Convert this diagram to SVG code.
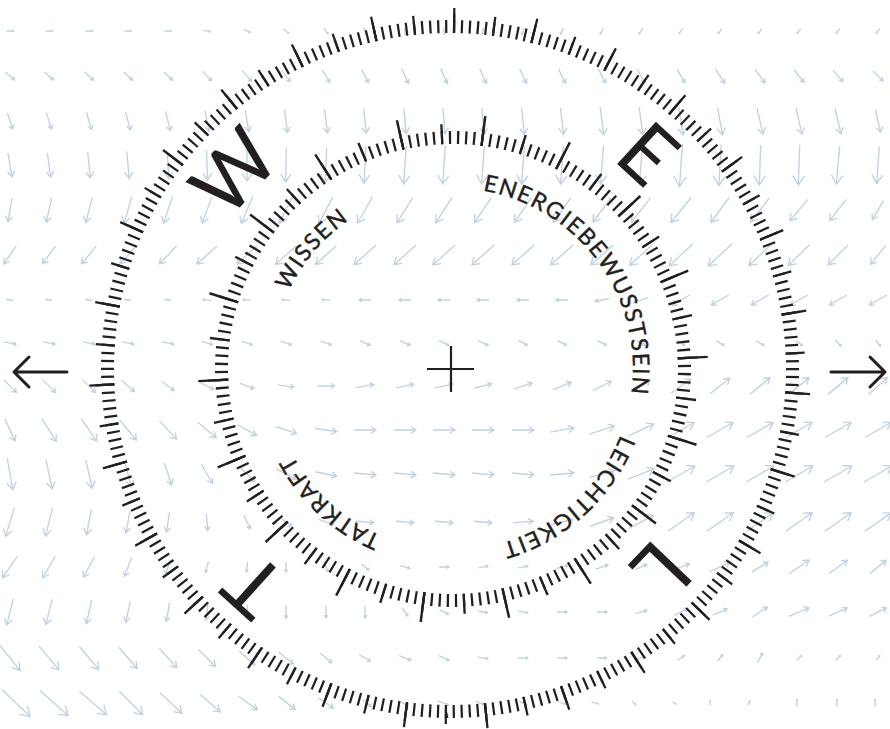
<svg xmlns="http://www.w3.org/2000/svg" xmlns:xlink="http://www.w3.org/1999/xlink" width="890" height="729" viewBox="0 0 890 729">
<style>
.lbl{font-family:Lato,"Open Sans","DejaVu Sans",sans-serif;font-size:23px;letter-spacing:1.5px;fill:#231f20;stroke:#231f20;stroke-width:.4}
.big{font-family:Lato,"Open Sans","DejaVu Sans",sans-serif;font-size:80px;fill:#231f20}
.ring{fill:none;stroke:#231f20}
</style>
<defs>
<path id="a" d="M-15 0H15M8-4.5L15 0 8 4.5" fill="none" stroke="#bfd3e4" stroke-width="1.35" vector-effect="non-scaling-stroke"/>
<path id="lp" d="M452 188A181 181 0 1 1 451.99 188" fill="none"/>
</defs>
<rect width="890" height="729" fill="#fff"/>
<g id="field">
<g transform="translate(0 31)">
<use href="#a" transform="translate(10) rotate(0) scale(.23)"/><use href="#a" transform="translate(49) rotate(0) scale(.23)"/><use href="#a" transform="translate(89) rotate(0) scale(.23)"/><use href="#a" transform="translate(128) rotate(0) scale(.23)"/><use href="#a" transform="translate(168) rotate(0) scale(.23)"/><use href="#a" transform="translate(207) rotate(10) scale(.23)"/><use href="#a" transform="translate(247) rotate(25) scale(.23)"/><use href="#a" transform="translate(286) rotate(40) scale(.23)"/><use href="#a" transform="translate(326) rotate(55) scale(.23)"/><use href="#a" transform="translate(365) rotate(70) scale(.23)"/><use href="#a" transform="translate(405) rotate(80) scale(.23)"/><use href="#a" transform="translate(444) rotate(90) scale(.23)"/><use href="#a" transform="translate(483) rotate(100) scale(.23)"/><use href="#a" transform="translate(523) rotate(110) scale(.23)"/><use href="#a" transform="translate(562) rotate(115) scale(.23)"/><use href="#a" transform="translate(602) rotate(120) scale(.23)"/><use href="#a" transform="translate(641) rotate(125) scale(.23)"/><use href="#a" transform="translate(681) rotate(128) scale(.2)"/><use href="#a" transform="translate(720) rotate(128) scale(.2)"/><use href="#a" transform="translate(760) rotate(128) scale(.2)"/><use href="#a" transform="translate(799) rotate(128) scale(.2)"/><use href="#a" transform="translate(838) rotate(128) scale(.2)"/><use href="#a" transform="translate(878) rotate(128) scale(.2)"/>
</g>
<g transform="translate(0 76)">
<use href="#a" transform="translate(10) rotate(40) scale(.4)"/><use href="#a" transform="translate(49) rotate(40) scale(.4)"/><use href="#a" transform="translate(89) rotate(44) scale(.4)"/><use href="#a" transform="translate(128) rotate(43) scale(.4)"/><use href="#a" transform="translate(168) rotate(43) scale(.4)"/><use href="#a" transform="translate(207) rotate(46) scale(.43)"/><use href="#a" transform="translate(247) rotate(50) scale(.47)"/><use href="#a" transform="translate(286) rotate(54) scale(.47)"/><use href="#a" transform="translate(326) rotate(58) scale(.5)"/><use href="#a" transform="translate(365) rotate(62) scale(.5)"/><use href="#a" transform="translate(405) rotate(65) scale(.53)"/><use href="#a" transform="translate(444) rotate(66) scale(.53)"/><use href="#a" transform="translate(483) rotate(66) scale(.53)"/><use href="#a" transform="translate(523) rotate(65) scale(.53)"/><use href="#a" transform="translate(562) rotate(64) scale(.53)"/><use href="#a" transform="translate(602) rotate(62) scale(.53)"/><use href="#a" transform="translate(641) rotate(61) scale(.53)"/><use href="#a" transform="translate(681) rotate(60) scale(.53)"/><use href="#a" transform="translate(720) rotate(57) scale(.57)"/><use href="#a" transform="translate(760) rotate(54) scale(.57)"/><use href="#a" transform="translate(799) rotate(52) scale(.53)"/><use href="#a" transform="translate(838) rotate(49) scale(.5)"/><use href="#a" transform="translate(878) rotate(45) scale(.47)"/>
</g>
<g transform="translate(0 121)">
<use href="#a" transform="translate(10) rotate(71) scale(.57)"/><use href="#a" transform="translate(49) rotate(72) scale(.57)"/><use href="#a" transform="translate(89) rotate(74) scale(.6)"/><use href="#a" transform="translate(128) rotate(75) scale(.63)"/><use href="#a" transform="translate(168) rotate(76) scale(.67)"/><use href="#a" transform="translate(207) rotate(78) scale(.7)"/><use href="#a" transform="translate(247) rotate(80) scale(.73)"/><use href="#a" transform="translate(286) rotate(82) scale(.77)"/><use href="#a" transform="translate(326) rotate(83) scale(.8)"/><use href="#a" transform="translate(365) rotate(84) scale(.83)"/><use href="#a" transform="translate(405) rotate(85) scale(.83)"/><use href="#a" transform="translate(444) rotate(85) scale(.87)"/><use href="#a" transform="translate(483) rotate(85) scale(.87)"/><use href="#a" transform="translate(523) rotate(84) scale(.9)"/><use href="#a" transform="translate(562) rotate(83) scale(.9)"/><use href="#a" transform="translate(602) rotate(82) scale(.93)"/><use href="#a" transform="translate(641) rotate(82) scale(.93)"/><use href="#a" transform="translate(681) rotate(81) scale(.93)"/><use href="#a" transform="translate(720) rotate(80) scale(.93)"/><use href="#a" transform="translate(760) rotate(77) scale(.9)"/><use href="#a" transform="translate(799) rotate(77) scale(.9)"/><use href="#a" transform="translate(838) rotate(77) scale(.87)"/><use href="#a" transform="translate(878) rotate(77) scale(.77)"/>
</g>
<g transform="translate(0 165)">
<use href="#a" transform="translate(10) rotate(80) scale(.8)"/><use href="#a" transform="translate(49) rotate(82) scale(.83)"/><use href="#a" transform="translate(89) rotate(84) scale(.87)"/><use href="#a" transform="translate(128) rotate(85) scale(.9)"/><use href="#a" transform="translate(168) rotate(86) scale(.93)"/><use href="#a" transform="translate(207) rotate(88) scale(1)"/><use href="#a" transform="translate(247) rotate(90) scale(1.07)"/><use href="#a" transform="translate(286) rotate(91) scale(1.13)"/><use href="#a" transform="translate(326) rotate(92) scale(1.17)"/><use href="#a" transform="translate(365) rotate(93) scale(1.2)"/><use href="#a" transform="translate(405) rotate(94) scale(1.27)"/><use href="#a" transform="translate(444) rotate(94) scale(1.27)"/><use href="#a" transform="translate(483) rotate(94) scale(1.27)"/><use href="#a" transform="translate(523) rotate(94) scale(1.27)"/><use href="#a" transform="translate(562) rotate(94) scale(1.27)"/><use href="#a" transform="translate(602) rotate(94) scale(1.27)"/><use href="#a" transform="translate(641) rotate(94) scale(1.3)"/><use href="#a" transform="translate(681) rotate(94) scale(1.43)"/><use href="#a" transform="translate(720) rotate(93) scale(1.37)"/><use href="#a" transform="translate(760) rotate(92) scale(1.33)"/><use href="#a" transform="translate(799) rotate(92) scale(1.33)"/><use href="#a" transform="translate(838) rotate(95) scale(1.27)"/><use href="#a" transform="translate(878) rotate(94) scale(1.23)"/>
</g>
<g transform="translate(0 210)">
<use href="#a" transform="translate(10) rotate(100) scale(.8)"/><use href="#a" transform="translate(49) rotate(102) scale(.83)"/><use href="#a" transform="translate(89) rotate(104) scale(.87)"/><use href="#a" transform="translate(128) rotate(106) scale(.9)"/><use href="#a" transform="translate(168) rotate(108) scale(.93)"/><use href="#a" transform="translate(207) rotate(110) scale(.93)"/><use href="#a" transform="translate(247) rotate(113) scale(.97)"/><use href="#a" transform="translate(286) rotate(116) scale(1)"/><use href="#a" transform="translate(326) rotate(118) scale(1)"/><use href="#a" transform="translate(365) rotate(120) scale(1)"/><use href="#a" transform="translate(405) rotate(122) scale(1)"/><use href="#a" transform="translate(444) rotate(123) scale(1)"/><use href="#a" transform="translate(483) rotate(124) scale(1)"/><use href="#a" transform="translate(523) rotate(125) scale(1)"/><use href="#a" transform="translate(562) rotate(126) scale(1)"/><use href="#a" transform="translate(602) rotate(127) scale(1)"/><use href="#a" transform="translate(641) rotate(128) scale(1.03)"/><use href="#a" transform="translate(681) rotate(129) scale(1.07)"/><use href="#a" transform="translate(720) rotate(126) scale(1.03)"/><use href="#a" transform="translate(760) rotate(128) scale(1)"/><use href="#a" transform="translate(799) rotate(130) scale(.93)"/><use href="#a" transform="translate(838) rotate(128) scale(.9)"/><use href="#a" transform="translate(878) rotate(121) scale(.73)"/>
</g>
<g transform="translate(0 255)">
<use href="#a" transform="translate(10) rotate(125) scale(.73)"/><use href="#a" transform="translate(49) rotate(127) scale(.73)"/><use href="#a" transform="translate(89) rotate(130) scale(.77)"/><use href="#a" transform="translate(128) rotate(132) scale(.8)"/><use href="#a" transform="translate(168) rotate(134) scale(.83)"/><use href="#a" transform="translate(207) rotate(138) scale(.9)"/><use href="#a" transform="translate(247) rotate(138) scale(.9)"/><use href="#a" transform="translate(286) rotate(138) scale(.93)"/><use href="#a" transform="translate(326) rotate(138) scale(.93)"/><use href="#a" transform="translate(365) rotate(138) scale(.97)"/><use href="#a" transform="translate(405) rotate(138) scale(.97)"/><use href="#a" transform="translate(444) rotate(138) scale(1)"/><use href="#a" transform="translate(483) rotate(138) scale(1)"/><use href="#a" transform="translate(523) rotate(138) scale(1)"/><use href="#a" transform="translate(562) rotate(138) scale(1)"/><use href="#a" transform="translate(602) rotate(138) scale(1)"/><use href="#a" transform="translate(641) rotate(138) scale(1.03)"/><use href="#a" transform="translate(681) rotate(137) scale(1.07)"/><use href="#a" transform="translate(720) rotate(137) scale(1.07)"/><use href="#a" transform="translate(760) rotate(136) scale(1.03)"/><use href="#a" transform="translate(799) rotate(136) scale(1)"/><use href="#a" transform="translate(838) rotate(135) scale(.93)"/><use href="#a" transform="translate(878) rotate(129) scale(.8)"/>
</g>
<g transform="translate(0 300)">
<use href="#a" transform="translate(10) rotate(190) scale(.2)"/><use href="#a" transform="translate(49) rotate(190) scale(.2)"/><use href="#a" transform="translate(89) rotate(190) scale(.2)"/><use href="#a" transform="translate(128) rotate(190) scale(.2)"/><use href="#a" transform="translate(168) rotate(190) scale(.2)"/><use href="#a" transform="translate(207) rotate(185) scale(.27)"/><use href="#a" transform="translate(247) rotate(185) scale(.27)"/><use href="#a" transform="translate(286) rotate(185) scale(.27)"/><use href="#a" transform="translate(326) rotate(185) scale(.27)"/><use href="#a" transform="translate(365) rotate(180) scale(.4)"/><use href="#a" transform="translate(405) rotate(180) scale(.4)"/><use href="#a" transform="translate(444) rotate(180) scale(.4)"/><use href="#a" transform="translate(483) rotate(180) scale(.4)"/><use href="#a" transform="translate(523) rotate(180) scale(.4)"/><use href="#a" transform="translate(562) rotate(180) scale(.4)"/><use href="#a" transform="translate(602) rotate(170) scale(.47)"/><use href="#a" transform="translate(641) rotate(160) scale(.53)"/><use href="#a" transform="translate(681) rotate(150) scale(.67)"/><use href="#a" transform="translate(720) rotate(150) scale(.67)"/><use href="#a" transform="translate(760) rotate(150) scale(.67)"/><use href="#a" transform="translate(799) rotate(150) scale(.67)"/><use href="#a" transform="translate(838) rotate(150) scale(.67)"/><use href="#a" transform="translate(878) rotate(150) scale(.67)"/>
</g>
<g transform="translate(0 343)">
<use href="#a" transform="translate(10) rotate(11) scale(.4)"/><use href="#a" transform="translate(49) rotate(11) scale(.4)"/><use href="#a" transform="translate(89) rotate(11) scale(.4)"/><use href="#a" transform="translate(128) rotate(11) scale(.4)"/><use href="#a" transform="translate(168) rotate(11) scale(.4)"/><use href="#a" transform="translate(207) rotate(18) scale(.37)"/><use href="#a" transform="translate(247) rotate(18) scale(.37)"/><use href="#a" transform="translate(286) rotate(18) scale(.37)"/><use href="#a" transform="translate(326) rotate(18) scale(.37)"/><use href="#a" transform="translate(365) rotate(25) scale(.37)"/><use href="#a" transform="translate(405) rotate(25) scale(.37)"/><use href="#a" transform="translate(444) rotate(25) scale(.37)"/><use href="#a" transform="translate(483) rotate(25) scale(.37)"/><use href="#a" transform="translate(523) rotate(28) scale(.33)"/><use href="#a" transform="translate(562) rotate(28) scale(.33)"/><use href="#a" transform="translate(602) rotate(28) scale(.33)"/><use href="#a" transform="translate(641) rotate(28) scale(.33)"/><use href="#a" transform="translate(681) rotate(32) scale(.3)"/><use href="#a" transform="translate(720) rotate(32) scale(.3)"/><use href="#a" transform="translate(760) rotate(32) scale(.3)"/><use href="#a" transform="translate(799) rotate(37) scale(.27)"/><use href="#a" transform="translate(838) rotate(45) scale(.3)"/><use href="#a" transform="translate(878) rotate(53) scale(.27)"/>
</g>
<g transform="translate(0 386)">
<use href="#a" transform="translate(10) rotate(45) scale(.6)"/><use href="#a" transform="translate(49) rotate(45) scale(.6)"/><use href="#a" transform="translate(89) rotate(45) scale(.6)"/><use href="#a" transform="translate(128) rotate(42) scale(.57)"/><use href="#a" transform="translate(168) rotate(35) scale(.5)"/><use href="#a" transform="translate(207) rotate(28) scale(.5)"/><use href="#a" transform="translate(247) rotate(20) scale(.5)"/><use href="#a" transform="translate(286) rotate(8) scale(.53)"/><use href="#a" transform="translate(326) rotate(-2) scale(.57)"/><use href="#a" transform="translate(365) rotate(-10) scale(.6)"/><use href="#a" transform="translate(405) rotate(-12) scale(.6)"/><use href="#a" transform="translate(444) rotate(-12) scale(.6)"/><use href="#a" transform="translate(483) rotate(-15) scale(.6)"/><use href="#a" transform="translate(523) rotate(-18) scale(.63)"/><use href="#a" transform="translate(562) rotate(-22) scale(.67)"/><use href="#a" transform="translate(602) rotate(-27) scale(.7)"/><use href="#a" transform="translate(641) rotate(-32) scale(.73)"/><use href="#a" transform="translate(681) rotate(-36) scale(.8)"/><use href="#a" transform="translate(720) rotate(-38) scale(.83)"/><use href="#a" transform="translate(760) rotate(-40) scale(.87)"/><use href="#a" transform="translate(799) rotate(-40) scale(.87)"/><use href="#a" transform="translate(838) rotate(-40) scale(.87)"/><use href="#a" transform="translate(878) rotate(-42) scale(.83)"/>
</g>
<g transform="translate(0 430)">
<use href="#a" transform="translate(10) rotate(65) scale(.8)"/><use href="#a" transform="translate(49) rotate(58) scale(.9)"/><use href="#a" transform="translate(89) rotate(55) scale(.9)"/><use href="#a" transform="translate(128) rotate(50) scale(.87)"/><use href="#a" transform="translate(168) rotate(47) scale(.83)"/><use href="#a" transform="translate(207) rotate(40) scale(.8)"/><use href="#a" transform="translate(247) rotate(30) scale(.73)"/><use href="#a" transform="translate(286) rotate(18) scale(.73)"/><use href="#a" transform="translate(326) rotate(8) scale(.73)"/><use href="#a" transform="translate(365) rotate(0) scale(.73)"/><use href="#a" transform="translate(405) rotate(0) scale(.73)"/><use href="#a" transform="translate(444) rotate(0) scale(.73)"/><use href="#a" transform="translate(483) rotate(0) scale(.73)"/><use href="#a" transform="translate(523) rotate(0) scale(.73)"/><use href="#a" transform="translate(562) rotate(-10) scale(.8)"/><use href="#a" transform="translate(602) rotate(-18) scale(.87)"/><use href="#a" transform="translate(641) rotate(-25) scale(.93)"/><use href="#a" transform="translate(681) rotate(-30) scale(1)"/><use href="#a" transform="translate(720) rotate(-30) scale(1)"/><use href="#a" transform="translate(760) rotate(-30) scale(1)"/><use href="#a" transform="translate(799) rotate(-30) scale(1)"/><use href="#a" transform="translate(838) rotate(-30) scale(1)"/><use href="#a" transform="translate(878) rotate(-30) scale(1)"/>
</g>
<g transform="translate(0 474)">
<use href="#a" transform="translate(10) rotate(80) scale(1.07)"/><use href="#a" transform="translate(49) rotate(78) scale(1)"/><use href="#a" transform="translate(89) rotate(77) scale(.97)"/><use href="#a" transform="translate(128) rotate(75) scale(.87)"/><use href="#a" transform="translate(168) rotate(72) scale(.77)"/><use href="#a" transform="translate(207) rotate(60) scale(.73)"/><use href="#a" transform="translate(247) rotate(45) scale(.73)"/><use href="#a" transform="translate(286) rotate(28) scale(.73)"/><use href="#a" transform="translate(326) rotate(12) scale(.73)"/><use href="#a" transform="translate(365) rotate(5) scale(.73)"/><use href="#a" transform="translate(405) rotate(5) scale(.73)"/><use href="#a" transform="translate(444) rotate(5) scale(.73)"/><use href="#a" transform="translate(483) rotate(5) scale(.73)"/><use href="#a" transform="translate(523) rotate(5) scale(.73)"/><use href="#a" transform="translate(562) rotate(-5) scale(.8)"/><use href="#a" transform="translate(602) rotate(-15) scale(.87)"/><use href="#a" transform="translate(641) rotate(-22) scale(.93)"/><use href="#a" transform="translate(681) rotate(-30) scale(1.07)"/><use href="#a" transform="translate(720) rotate(-30) scale(1.07)"/><use href="#a" transform="translate(760) rotate(-30) scale(1.07)"/><use href="#a" transform="translate(799) rotate(-30) scale(1.07)"/><use href="#a" transform="translate(838) rotate(-30) scale(1.07)"/><use href="#a" transform="translate(878) rotate(-30) scale(1.07)"/>
</g>
<g transform="translate(0 522)">
<use href="#a" transform="translate(10) rotate(107) scale(1)"/><use href="#a" transform="translate(49) rotate(104) scale(.97)"/><use href="#a" transform="translate(89) rotate(101) scale(.87)"/><use href="#a" transform="translate(128) rotate(100) scale(.73)"/><use href="#a" transform="translate(168) rotate(98) scale(.67)"/><use href="#a" transform="translate(207) rotate(85) scale(.57)"/><use href="#a" transform="translate(247) rotate(65) scale(.5)"/><use href="#a" transform="translate(286) rotate(40) scale(.5)"/><use href="#a" transform="translate(326) rotate(20) scale(.53)"/><use href="#a" transform="translate(365) rotate(5) scale(.6)"/><use href="#a" transform="translate(405) rotate(5) scale(.6)"/><use href="#a" transform="translate(444) rotate(5) scale(.6)"/><use href="#a" transform="translate(483) rotate(5) scale(.6)"/><use href="#a" transform="translate(523) rotate(-5) scale(.67)"/><use href="#a" transform="translate(562) rotate(-12) scale(.73)"/><use href="#a" transform="translate(602) rotate(-20) scale(.83)"/><use href="#a" transform="translate(641) rotate(-28) scale(.93)"/><use href="#a" transform="translate(681) rotate(-35) scale(1.07)"/><use href="#a" transform="translate(720) rotate(-35) scale(1.07)"/><use href="#a" transform="translate(760) rotate(-35) scale(1.07)"/><use href="#a" transform="translate(799) rotate(-35) scale(1.07)"/><use href="#a" transform="translate(838) rotate(-35) scale(1.07)"/><use href="#a" transform="translate(878) rotate(-35) scale(1.07)"/>
</g>
<g transform="translate(0 567)">
<use href="#a" transform="translate(10) rotate(125) scale(.87)"/><use href="#a" transform="translate(49) rotate(120) scale(.83)"/><use href="#a" transform="translate(89) rotate(118) scale(.77)"/><use href="#a" transform="translate(128) rotate(110) scale(.67)"/><use href="#a" transform="translate(168) rotate(108) scale(.53)"/><use href="#a" transform="translate(207) rotate(105) scale(.37)"/><use href="#a" transform="translate(247) rotate(95) scale(.33)"/><use href="#a" transform="translate(286) rotate(90) scale(.33)"/><use href="#a" transform="translate(326) rotate(70) scale(.33)"/><use href="#a" transform="translate(365) rotate(40) scale(.33)"/><use href="#a" transform="translate(405) rotate(15) scale(.33)"/><use href="#a" transform="translate(444) rotate(0) scale(.33)"/><use href="#a" transform="translate(483) rotate(-10) scale(.33)"/><use href="#a" transform="translate(523) rotate(-10) scale(.33)"/><use href="#a" transform="translate(562) rotate(-16) scale(.4)"/><use href="#a" transform="translate(602) rotate(-20) scale(.43)"/><use href="#a" transform="translate(641) rotate(-23) scale(.43)"/><use href="#a" transform="translate(681) rotate(-22) scale(.6)"/><use href="#a" transform="translate(720) rotate(-27) scale(.73)"/><use href="#a" transform="translate(760) rotate(-31) scale(.63)"/><use href="#a" transform="translate(799) rotate(-34) scale(.8)"/><use href="#a" transform="translate(838) rotate(-36) scale(.77)"/><use href="#a" transform="translate(878) rotate(-39) scale(.7)"/>
</g>
<g transform="translate(0 612)">
<use href="#a" transform="translate(10) rotate(104) scale(.9)"/><use href="#a" transform="translate(49) rotate(104) scale(.87)"/><use href="#a" transform="translate(89) rotate(102) scale(.8)"/><use href="#a" transform="translate(128) rotate(102) scale(.7)"/><use href="#a" transform="translate(168) rotate(100) scale(.63)"/><use href="#a" transform="translate(207) rotate(97) scale(.53)"/><use href="#a" transform="translate(247) rotate(93) scale(.47)"/><use href="#a" transform="translate(286) rotate(90) scale(.43)"/><use href="#a" transform="translate(326) rotate(90) scale(.4)"/><use href="#a" transform="translate(365) rotate(85) scale(.4)"/><use href="#a" transform="translate(405) rotate(55) scale(.33)"/><use href="#a" transform="translate(444) rotate(25) scale(.33)"/><use href="#a" transform="translate(483) rotate(10) scale(.3)"/><use href="#a" transform="translate(523) rotate(10) scale(.33)"/><use href="#a" transform="translate(562) rotate(0) scale(.33)"/><use href="#a" transform="translate(602) rotate(0) scale(.33)"/><use href="#a" transform="translate(641) rotate(-16) scale(.4)"/><use href="#a" transform="translate(681) rotate(-27) scale(.5)"/><use href="#a" transform="translate(720) rotate(-24) scale(.53)"/><use href="#a" transform="translate(760) rotate(-34) scale(.6)"/><use href="#a" transform="translate(799) rotate(-23) scale(.73)"/><use href="#a" transform="translate(838) rotate(-24) scale(.67)"/><use href="#a" transform="translate(878) rotate(-27) scale(.63)"/>
</g>
<g transform="translate(0 658)">
<use href="#a" transform="translate(10) rotate(51) scale(1.07)"/><use href="#a" transform="translate(49) rotate(50) scale(1.03)"/><use href="#a" transform="translate(89) rotate(50) scale(1)"/><use href="#a" transform="translate(128) rotate(49) scale(.93)"/><use href="#a" transform="translate(168) rotate(48) scale(.87)"/><use href="#a" transform="translate(207) rotate(45) scale(.8)"/><use href="#a" transform="translate(247) rotate(42) scale(.7)"/><use href="#a" transform="translate(286) rotate(39) scale(.63)"/><use href="#a" transform="translate(326) rotate(40) scale(.5)"/><use href="#a" transform="translate(365) rotate(30) scale(.43)"/><use href="#a" transform="translate(405) rotate(22) scale(.43)"/><use href="#a" transform="translate(444) rotate(26) scale(.37)"/><use href="#a" transform="translate(483) rotate(10) scale(.33)"/><use href="#a" transform="translate(523) rotate(0) scale(.33)"/><use href="#a" transform="translate(562) rotate(0) scale(.33)"/><use href="#a" transform="translate(602) rotate(0) scale(.3)"/><use href="#a" transform="translate(641) rotate(-15) scale(.27)"/><use href="#a" transform="translate(681) rotate(-37) scale(.27)"/><use href="#a" transform="translate(720) rotate(-53) scale(.27)"/><use href="#a" transform="translate(760) rotate(-63) scale(.37)"/><use href="#a" transform="translate(799) rotate(-45) scale(.23)"/><use href="#a" transform="translate(838) rotate(-45) scale(.23)"/><use href="#a" transform="translate(878) rotate(-56) scale(.2)"/>
</g>
<g transform="translate(0 703)">
<use href="#a" transform="translate(16) rotate(44) scale(1.3)"/><use href="#a" transform="translate(54) rotate(42) scale(1.27)"/><use href="#a" transform="translate(93) rotate(41) scale(1.2)"/><use href="#a" transform="translate(131) rotate(45) scale(1.1)"/><use href="#a" transform="translate(171) rotate(43) scale(1)"/><use href="#a" transform="translate(210) rotate(42) scale(.9)"/><use href="#a" transform="translate(248) rotate(36) scale(.77)"/><use href="#a" transform="translate(287) rotate(39) scale(.7)"/><use href="#a" transform="translate(326) rotate(34) scale(.6)"/><use href="#a" transform="translate(367) rotate(39) scale(.37)"/><use href="#a" transform="translate(403) rotate(23) scale(.4)"/><use href="#a" transform="translate(443) rotate(23) scale(.4)"/><use href="#a" transform="translate(480) rotate(22) scale(.3)"/><use href="#a" transform="translate(523) rotate(20) scale(.27)"/><use href="#a" transform="translate(562) rotate(18) scale(.23)"/><use href="#a" transform="translate(595) rotate(14) scale(.23)"/><use href="#a" transform="translate(634) rotate(45) scale(.17)"/><use href="#a" transform="translate(674) rotate(27) scale(.13)"/><use href="#a" transform="translate(710) rotate(-90) scale(.17)"/><use href="#a" transform="translate(749) rotate(-72) scale(.17)"/><use href="#a" transform="translate(797) rotate(-90) scale(.23)"/><use href="#a" transform="translate(837) rotate(-90) scale(.23)"/><use href="#a" transform="translate(875) rotate(-90) scale(.23)"/>
</g>
</g>
<g id="outer-ring" class="ring" transform="rotate(-89.5 450 369)">
<circle cx="450" cy="369" r="342.5" stroke-width="13" pathLength="270" stroke-dasharray="0.28 0.72"/>
<circle cx="450" cy="369" r="345.5" stroke-width="19" pathLength="54" stroke-dasharray="0.056 0.944"/>
<circle cx="450" cy="369" r="348.5" stroke-width="25" pathLength="27" stroke-dasharray="0.028 0.972"/>
</g>
<g id="inner-ring" class="ring" transform="rotate(-3 453 369)">
<circle cx="453" cy="369" r="231.5" stroke-width="13" pathLength="180" stroke-dasharray="0.28 0.72"/>
<circle cx="453" cy="369" r="235" stroke-width="20" pathLength="36" stroke-dasharray="0.056 0.944"/>
<circle cx="453" cy="369" r="240" stroke-width="30" pathLength="18" stroke-dasharray="0.028 0.972"/>
</g>
<g id="labels">
<text class="lbl"><textPath href="#lp" startOffset="86.25%" text-anchor="middle">WISSEN</textPath></text>
<text class="lbl"><textPath href="#lp" startOffset="15%" text-anchor="middle">ENERGIEBEWUSSTSEIN</textPath></text>
<text class="lbl"><textPath href="#lp" startOffset="38.3%" text-anchor="middle">LEICHTIGKEIT</textPath></text>
<text class="lbl"><textPath href="#lp" startOffset="61.8%" text-anchor="middle">TATKRAFT</textPath></text>
</g>
<g id="letters">
<text class="big" x="450" y="105" text-anchor="middle" transform="rotate(312.4 450 369)">W</text>
<text class="big" x="450" y="105" text-anchor="middle" transform="rotate(42.6 450 369)">E</text>
<text class="big" x="450" y="105" text-anchor="middle" transform="rotate(133.6 450 369)">L</text>
<text class="big" x="450" y="105" text-anchor="middle" transform="rotate(222.1 450 369)">T</text>
</g>
<g id="center" stroke="#231f20" stroke-width="2.2" fill="none">
<path d="M427 369H474M451 346V392"/>
</g>
<g id="arrows" stroke="#231f20" stroke-width="3" fill="none" stroke-linecap="round" stroke-linejoin="round">
<path id="arrow-left" d="M67 372H14M29 357L14 372 29 387"/>
<path id="arrow-right" d="M831 372H885M870 357L885 372 870 387"/>
</g>
</svg>
